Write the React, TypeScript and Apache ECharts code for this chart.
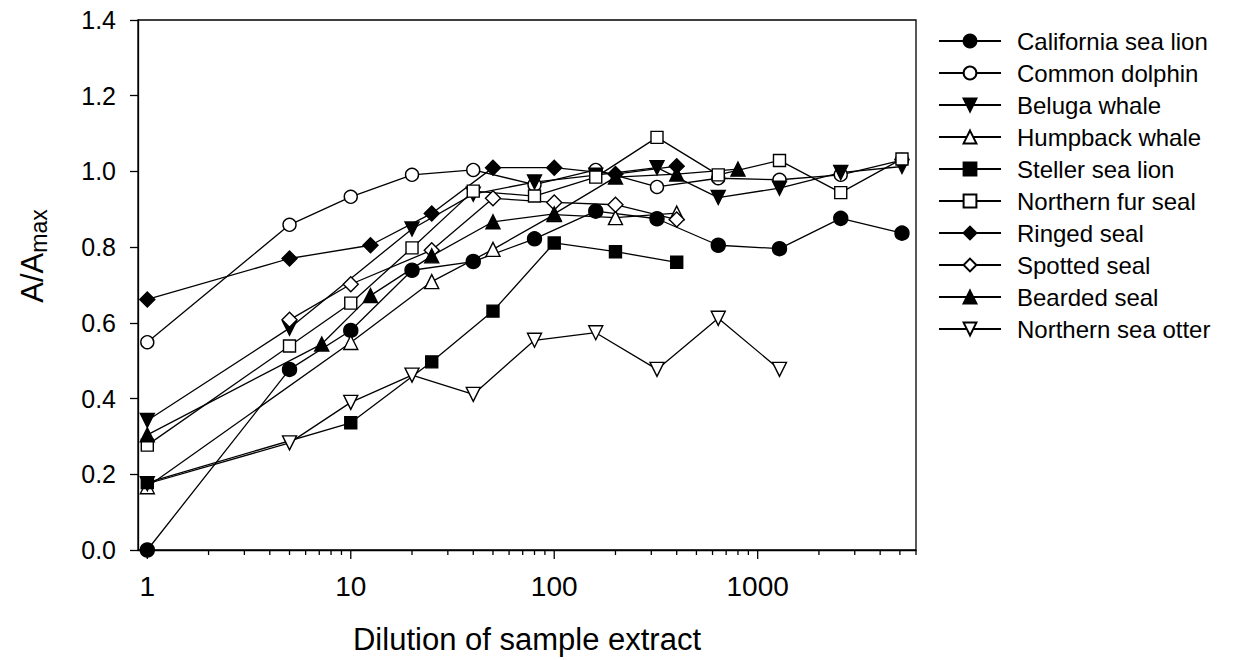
import React, { useEffect, useRef } from "react";
import * as echarts from "echarts";

const dil12 = [1, 5, 10, 20, 40, 80, 160, 320, 640, 1280, 2560, 5120];

const californiaX = dil12;
const californiaY = [0.0, 0.477, 0.58, 0.739, 0.762, 0.822, 0.895, 0.875, 0.805, 0.796, 0.876, 0.837];
const dolphinX = dil12;
const dolphinY = [0.549, 0.859, 0.933, 0.991, 1.004, 0.965, 1.004, 0.959, 0.982, 0.978, 0.991, 1.03];
const belugaX = [1, 5, 20, 40, 80, 160, 320, 640, 1280, 2560, 5120];
const belugaY = [0.342, 0.586, 0.848, 0.94, 0.972, 0.99, 1.01, 0.931, 0.956, 0.997, 1.013];
const humpbackX = [1, 10, 25, 50, 100, 200, 400];
const humpbackY = [0.167, 0.548, 0.709, 0.794, 0.886, 0.878, 0.89];
const stellerX = [1, 10, 25, 50, 100, 200, 400];
const stellerY = [0.178, 0.336, 0.497, 0.631, 0.811, 0.788, 0.76];
const furSealX = dil12;
const furSealY = [0.277, 0.539, 0.652, 0.798, 0.948, 0.935, 0.985, 1.09, 0.991, 1.029, 0.944, 1.033];
const ringedX = [1, 5, 12.5, 25, 50, 100, 200, 400];
const ringedY = [0.662, 0.77, 0.805, 0.889, 1.01, 1.01, 0.993, 1.014];
const spottedX = [5, 10, 25, 50, 100, 200, 400];
const spottedY = [0.608, 0.702, 0.792, 0.929, 0.918, 0.912, 0.873];
const beardedX = [1, 7.2, 12.5, 25, 50, 100, 200, 400, 800];
const beardedY = [0.304, 0.544, 0.672, 0.777, 0.867, 0.888, 0.985, 0.993, 1.006];
const otterX = [1, 5, 10, 20, 40, 80, 160, 320, 640, 1280];
const otterY = [0.175, 0.283, 0.39, 0.462, 0.411, 0.554, 0.574, 0.477, 0.612, 0.477];

const majorTicks = [1, 10, 100, 1000];
const minorTicks = [
  2, 3, 4, 5, 6, 7, 8, 9,
  20, 30, 40, 50, 60, 70, 80, 90,
  200, 300, 400, 500, 600, 700, 800, 900,
  2000, 3000, 4000, 5000, 6000,
];

const FONT = "Liberation Sans, Arial, Helvetica, sans-serif";

type Def = {
  name: string;
  x: number[];
  y: number[];
  symbol: string;
  filled: boolean;
  rotate?: number;
  size: number;
  order: number;
};

const defs: Def[] = [
  { name: "California sea lion", x: californiaX, y: californiaY, symbol: "circle", filled: true, size: 14, order: 0 },
  { name: "Common dolphin", x: dolphinX, y: dolphinY, symbol: "circle", filled: false, size: 13, order: 1 },
  { name: "Beluga whale", x: belugaX, y: belugaY, symbol: "triangle", filled: true, rotate: 180, size: 14, order: 2 },
  { name: "Humpback whale", x: humpbackX, y: humpbackY, symbol: "triangle", filled: false, size: 14, order: 3 },
  { name: "Steller sea lion", x: stellerX, y: stellerY, symbol: "rect", filled: true, size: 12, order: 5 },
  { name: "Northern fur seal", x: furSealX, y: furSealY, symbol: "rect", filled: false, size: 12, order: 6 },
  { name: "Ringed seal", x: ringedX, y: ringedY, symbol: "diamond", filled: true, size: 15, order: 7 },
  { name: "Spotted seal", x: spottedX, y: spottedY, symbol: "diamond", filled: false, size: 15, order: 8 },
  { name: "Bearded seal", x: beardedX, y: beardedY, symbol: "triangle", filled: true, size: 14, order: 9 },
  { name: "Northern sea otter", x: otterX, y: otterY, symbol: "triangle", filled: false, rotate: 180, size: 14, order: 4 },
];

export default function App() {
  const ref = useRef<HTMLDivElement>(null);

  useEffect(() => {
    if (!ref.current) return;
    const chart = echarts.init(ref.current, undefined, { renderer: "svg" });

    const lineSeries = [...defs]
      .sort((a, b) => a.order - b.order)
      .map((d) => ({
        name: d.name,
        type: "line",
        data: d.x.map((xv, i) => [xv, d.y[i]]),
        symbol: d.symbol,
        symbolSize: d.size,
        symbolRotate: d.rotate || 0,
        showSymbol: true,
        clip: false,
        lineStyle: { color: "#000", width: 1.3 },
        itemStyle: {
          color: d.filled ? "#000" : "#fff",
          borderColor: "#000",
          borderWidth: 1.4,
          opacity: 1,
        },
        emphasis: { disabled: true },
        z: 3,
      }));

    const tickData = [
      ...majorTicks.map((v) => [v, 0, 9]),
      ...minorTicks.map((v) => [v, 0, 5]),
    ];

    const option: any = {
      animation: false,
      backgroundColor: "#fff",
      textStyle: { fontFamily: FONT },
      grid: {
        left: 138,
        right: 318,
        top: 20,
        bottom: 95,
        show: true,
        borderColor: "#000",
        borderWidth: 1.3,
        backgroundColor: "transparent",
      },
      legend: {
        orient: "vertical",
        left: 938,
        top: 29,
        padding: 0,
        itemWidth: 62,
        itemHeight: 16,
        itemGap: 8,
        data: defs.map((d) => d.name),
        textStyle: {
          fontFamily: FONT,
          fontSize: 24,
          color: "#000",
          lineHeight: 24,
          padding: [0, 0, 0, 11],
        },
        selectedMode: false,
      },
      xAxis: {
        type: "log",
        logBase: 10,
        min: 0.9,
        max: 6000,
        name: "Dilution of sample extract",
        nameLocation: "middle",
        nameGap: 74,
        nameTextStyle: { fontFamily: FONT, fontSize: 31, color: "#000" },
        axisLine: { show: true, lineStyle: { color: "#000", width: 1.3 } },
        axisTick: { show: false },
        minorTick: { show: false },
        splitLine: { show: false },
        axisLabel: {
          fontFamily: FONT,
          fontSize: 28,
          color: "#000",
          margin: 22,
          showMinLabel: true,
          showMaxLabel: true,
          formatter: (v: number) => {
            const l = Math.log10(v);
            return Math.abs(l - Math.round(l)) < 1e-6 ? String(Math.round(v)) : "";
          },
        },
      },
      yAxis: {
        type: "value",
        min: 0,
        max: 1.4,
        interval: 0.2,
        axisLine: { show: true, lineStyle: { color: "#000", width: 1.3 } },
        axisTick: { show: true, inside: false, length: 8, lineStyle: { color: "#000", width: 1.3 } },
        splitLine: { show: false },
        axisLabel: {
          fontFamily: FONT,
          fontSize: 25,
          color: "#000",
          margin: 22,
          formatter: (v: number) => v.toFixed(1),
        },
      },
      graphic: [
        {
          type: "text",
          x: 32,
          y: 256,
          rotation: Math.PI / 2,
          style: {
            text: "{a|A/A}{b|max}",
            align: "center",
            verticalAlign: "middle",
            fill: "#000",
            rich: {
              a: { fontFamily: FONT, fontSize: 31, lineHeight: 36, fill: "#000" },
              b: { fontFamily: FONT, fontSize: 23, lineHeight: 23, verticalAlign: "bottom", fill: "#000" },
            },
          },
        },
      ],
      series: [
        {
          name: "xticks",
          type: "custom",
          data: tickData,
          clip: false,
          silent: true,
          z: 1,
          renderItem: (params: any, api: any) => {
            const p = api.coord([api.value(0), api.value(1)]);
            const len = api.value(2);
            return {
              type: "line",
              shape: { x1: p[0], y1: p[1], x2: p[0], y2: p[1] + len },
              style: { stroke: "#000", lineWidth: 1.3 },
            };
          },
        },
        ...lineSeries,
      ],
    };

    chart.setOption(option);
    return () => chart.dispose();
  }, []);

  return <div ref={ref} style={{ width: 1234, height: 660, position: "absolute", left: 0, top: 0 }} />;
}
